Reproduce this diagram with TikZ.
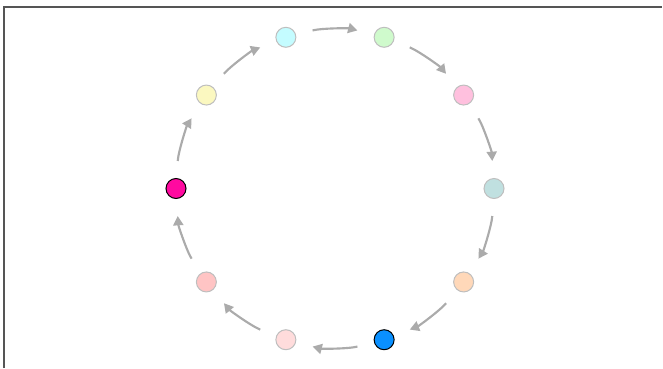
\documentclass[tikz,border=0pt]{standalone}
\usetikzlibrary{arrows.meta}
\definecolor{framec}{HTML}{555555}
\definecolor{arrc}{HTML}{ABABAB}
\definecolor{fadeb}{HTML}{BEBEBE}
\definecolor{cA}{HTML}{C0E0E0}
\definecolor{cB}{HTML}{FFD8B9}
\definecolor{cC}{HTML}{0A90FF}
\definecolor{cD}{HTML}{FFDCDC}
\definecolor{cE}{HTML}{FFC4C4}
\definecolor{cF}{HTML}{FF0AA0}
\definecolor{cG}{HTML}{FBF8C0}
\definecolor{cH}{HTML}{C4FCFF}
\definecolor{cI}{HTML}{CFFACC}
\definecolor{cJ}{HTML}{FFC0DE}
\tikzset{
  ball/.style={circle, minimum size=15pt, inner sep=0pt, line width=0.75pt, draw=fadeb},
  hot/.style={circle, minimum size=15pt, inner sep=0pt, line width=0.75pt, draw=black},
  flow/.style={draw=arrc, line width=1.6pt, -{Triangle[length=7pt,width=7.5pt]},
    bend left=14.4, looseness=0.87, shorten <=12.8pt, shorten >=12.8pt},
}
\begin{document}
\begin{tikzpicture}[x=0.75pt,y=-0.75pt]
\useasboundingbox (0,0) rectangle (663,368);
\draw[framec, line width=1pt] (4,368) -- (4,7) -- (662,7);
\begin{scope}[shift={(335,188.5)}]
\def\R{159}
\node[ball, fill=cA] (n0) at (0:\R) {};
\node[ball, fill=cB] (n1) at (36:\R) {};
\node[hot,  fill=cC] (n2) at (72:\R) {};
\node[ball, fill=cD] (n3) at (108:\R) {};
\node[ball, fill=cE] (n4) at (144:\R) {};
\node[hot,  fill=cF] (n5) at (180:\R) {};
\node[ball, fill=cG] (n6) at (216:\R) {};
\node[ball, fill=cH] (n7) at (252:\R) {};
\node[ball, fill=cI] (n8) at (288:\R) {};
\node[ball, fill=cJ] (n9) at (324:\R) {};
\draw[flow] (n0) to (n1);
\draw[flow] (n1) to (n2);
\draw[flow] (n2) to (n3);
\draw[flow] (n3) to (n4);
\draw[flow] (n4) to (n5);
\draw[flow] (n5) to (n6);
\draw[flow] (n6) to (n7);
\draw[flow] (n7) to (n8);
\draw[flow] (n8) to (n9);
\draw[flow] (n9) to (n0);
\end{scope}
\end{tikzpicture}
\end{document}
